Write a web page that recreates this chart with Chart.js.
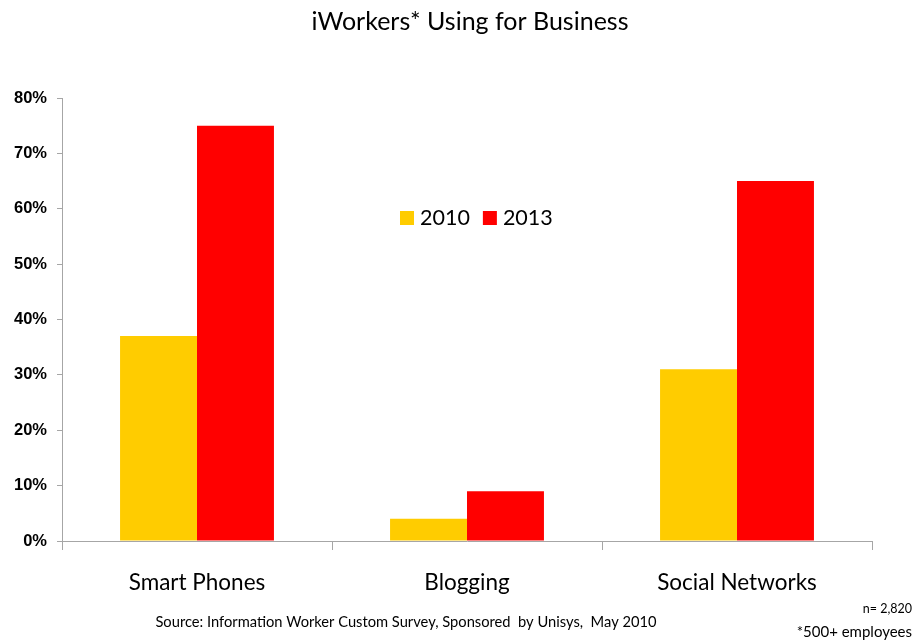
<!DOCTYPE html>
<html>
<head>
<meta charset="utf-8">
<script src="https://cdn.jsdelivr.net/npm/chart.js@4/dist/chart.umd.min.js"></script>
<style>
  html, body { margin: 0; padding: 0; background: #fff; }
  #wrap { width: 916px; height: 642px; }
</style>
</head>
<body>
<div id="wrap"><canvas id="c" width="916" height="642"></canvas></div>
<script>
const categories = ['Smart Phones', 'Blogging', 'Social Networks'];
const series2010 = [37, 4, 31];
const series2013 = [75, 9, 65];
const seriesNames = ['2010', '2013'];
const yTicks = [0, 10, 20, 30, 40, 50, 60, 70, 80];

const TEXT_FONT = 'Lato, "Open Sans", sans-serif';
const AXIS_GRAY = '#A6A6A6';

// Title, in-plot legend and footer notes
const annotations = {
  id: 'annotations',
  afterDraw(chart) {
    const ctx = chart.ctx;
    ctx.save();
    ctx.fillStyle = '#000';
    ctx.textBaseline = 'middle';

    ctx.font = '25px ' + TEXT_FONT;
    ctx.textAlign = 'center';
    ctx.fillText('iWorkers* Using for Business', 470, 22);

    // legend
    const ly = 218;
    let lx = 400;
    ctx.font = '21.5px ' + TEXT_FONT;
    ctx.textAlign = 'left';
    chart.data.datasets.forEach(ds => {
      ctx.fillStyle = ds.backgroundColor;
      ctx.fillRect(lx, ly - 7, 14, 14);
      ctx.fillStyle = '#000';
      ctx.fillText(ds.label, lx + 20, ly);
      lx += 20 + ctx.measureText(ds.label).width + 13;
    });

    ctx.font = '14.7px ' + TEXT_FONT;
    ctx.textAlign = 'center';
    ctx.fillText('Source: Information Worker Custom Survey, Sponsored  by Unisys,  May 2010', 406, 622);

    ctx.textAlign = 'right';
    ctx.font = '12.5px ' + TEXT_FONT;
    ctx.fillText('n= 2,820', 912, 609);
    ctx.font = '15px ' + TEXT_FONT;
    ctx.fillText('*500+ employees', 912, 632);
    ctx.restore();
  }
};

new Chart(document.getElementById('c'), {
  type: 'bar',
  data: {
    labels: categories,
    datasets: [
      { label: seriesNames[0], data: series2010, backgroundColor: '#FFCC00', categoryPercentage: 0.57, barPercentage: 1.0 },
      { label: seriesNames[1], data: series2013, backgroundColor: '#FF0000', categoryPercentage: 0.57, barPercentage: 1.0 }
    ]
  },
  options: {
    responsive: false,
    animation: false,
    layout: { padding: { top: 98, right: 44, left: 0, bottom: 0 } },
    plugins: {
      legend: { display: false },
      title: { display: false },
      tooltip: { enabled: false }
    },
    scales: {
      x: {
        grid: { display: true, drawOnChartArea: false, offset: true, tickLength: 9, color: AXIS_GRAY, lineWidth: 1 },
        border: { display: true, color: AXIS_GRAY, width: 1 },
        ticks: { color: '#000', font: { family: TEXT_FONT, size: 22.5 }, padding: 19, maxRotation: 0 },
        afterFit(scale) { scale.height = 101; }
      },
      y: {
        min: 0,
        max: 80,
        afterBuildTicks(scale) { scale.ticks = yTicks.map(v => ({ value: v })); },
        grid: { display: true, drawOnChartArea: false, tickLength: 5, color: AXIS_GRAY, lineWidth: 1 },
        border: { display: true, color: AXIS_GRAY, width: 1 },
        ticks: {
          color: '#000',
          font: { family: '"Liberation Sans", Arial, sans-serif', size: 16.5, weight: 'bold' },
          padding: 10,
          callback: v => v + '%'
        },
        afterFit(scale) { scale.width = 62; }
      }
    }
  },
  plugins: [annotations]
});
</script>
</body>
</html>
